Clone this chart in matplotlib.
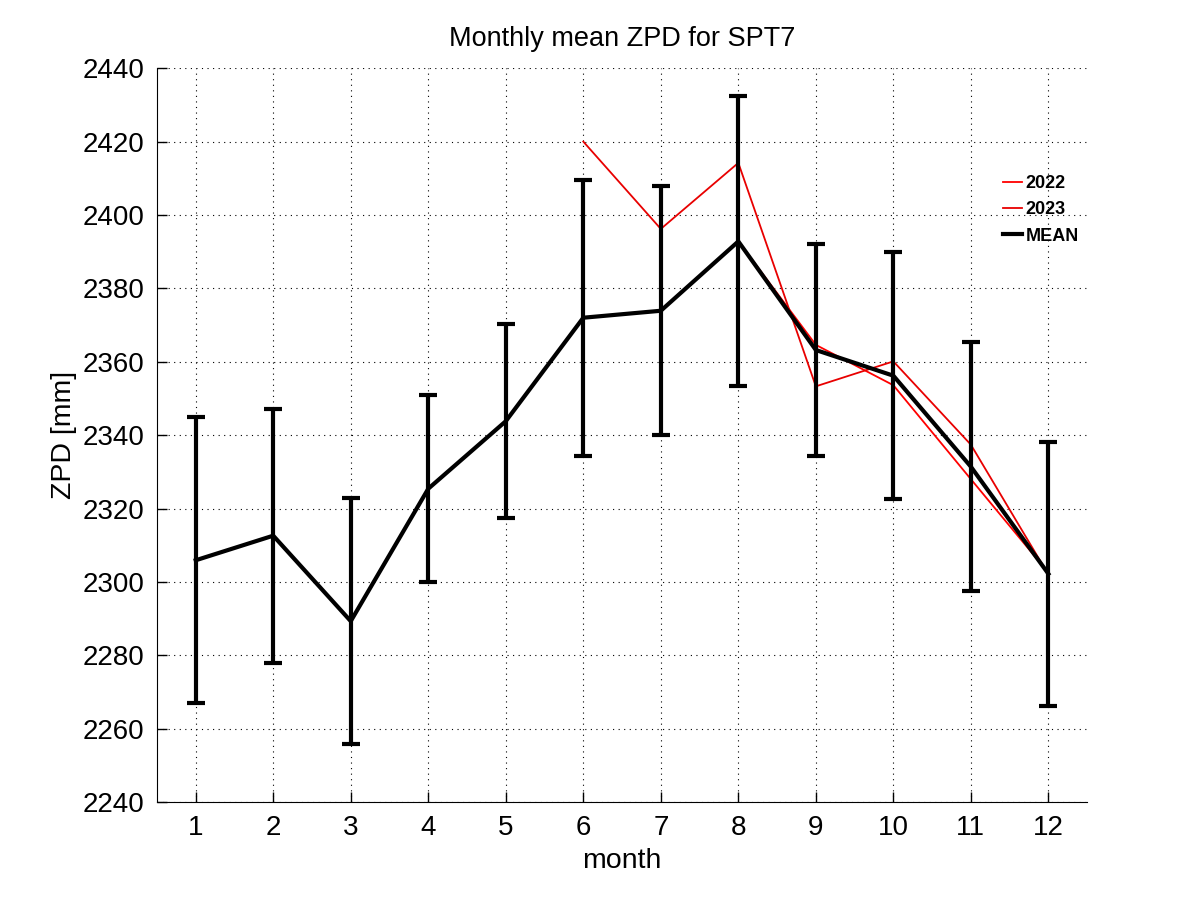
import matplotlib
matplotlib.use("Agg")
import matplotlib.pyplot as plt
import numpy as np

plt.rcParams['font.family'] = ['Liberation Sans', 'DejaVu Sans']

months = [1, 2, 3, 4, 5, 6, 7, 8, 9, 10, 11, 12]
mean_zpd = [2305.9, 2312.6, 2289.3, 2325.4, 2343.8, 2372.0, 2373.9, 2392.8,
            2363.2, 2356.2, 2331.4, 2302.2]
err_zpd = [39.0, 34.6, 33.6, 25.5, 26.4, 37.6, 33.9, 39.5, 29.0, 33.7, 34.0, 35.9]

m2022 = [8, 9, 10, 11, 12]
v2022 = [2392.8, 2364.6, 2353.6, 2328.0, 2302.5]
m2023 = [6, 7, 8, 9, 10, 11, 12]
v2023 = [2420.0, 2396.2, 2414.2, 2353.3, 2360.1, 2337.4, 2302.0]

xticks = months
yticks = list(range(2240, 2441, 20))

fig = plt.figure(figsize=(12.01, 9.01), dpi=100)
ax = fig.add_axes([0.1307, 0.1098, 0.7745, 0.8145])

l1, = ax.plot(m2022, v2022, color='#ff0000', lw=1.3, zorder=3)
l2, = ax.plot(m2023, v2023, color='#e80000', lw=1.3, zorder=3)
eb = ax.errorbar(months, mean_zpd, yerr=err_zpd, color='black', lw=3,
                 elinewidth=3, capsize=6.5, capthick=3, zorder=4)

ax.set_xlim(0.5, 12.5)
ax.set_ylim(2240, 2440)
ax.set_xticks(xticks)
ax.set_yticks(yticks)
ax.tick_params(direction='in', length=7, width=1, labelsize=20, pad=9)
ax.grid(True, color='black', linestyle=(0, (1, 4)), linewidth=0.8)
ax.spines['top'].set_visible(False)
ax.spines['right'].set_visible(False)
ax.set_xlabel('month', fontsize=20.5, labelpad=5)
ax.set_ylabel('ZPD [mm]', fontsize=20.5, labelpad=4)
ax.set_title('Monthly mean ZPD for SPT7', fontsize=19.5, pad=16)

leg = ax.legend([l1, l2, eb.lines[0]], ['2022', '2023', 'MEAN'],
                loc='upper left', bbox_to_anchor=(0.9097, 0.8545),
                frameon=False, borderpad=0, borderaxespad=0,
                prop={'weight': 'bold', 'size': 13}, handlelength=1.05,
                handletextpad=0.2, labelspacing=0.52)

fig.savefig('out.png', dpi=100)
